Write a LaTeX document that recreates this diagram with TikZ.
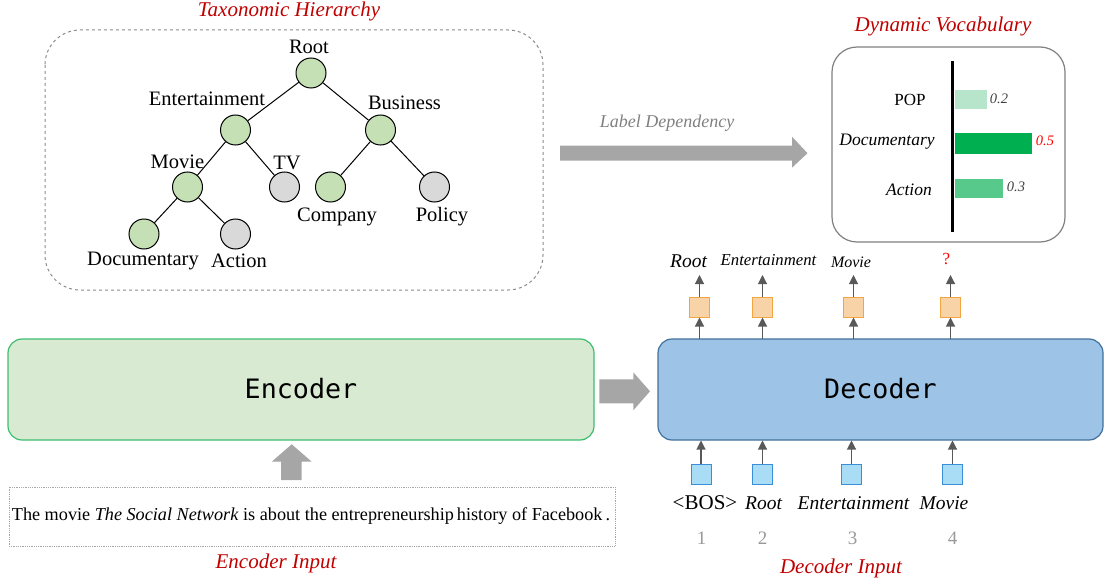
\documentclass[tikz,border=0pt]{standalone}
\usepackage{fontspec}
\setmainfont{Liberation Serif}
\newfontfamily\monofont{DejaVu Sans Mono}
\usetikzlibrary{arrows.meta}
\definecolor{treegreen}{HTML}{C5E0B4}
\definecolor{treegray}{HTML}{D9D9D9}
\definecolor{titlered}{HTML}{C00000}
\definecolor{encfill}{HTML}{D9EAD3}
\definecolor{encdraw}{HTML}{3DBE6E}
\definecolor{decfill}{HTML}{9DC3E6}
\definecolor{decdraw}{HTML}{41719C}
\definecolor{outfill}{HTML}{F8D3A8}
\definecolor{outdraw}{HTML}{F2A541}
\definecolor{infill}{HTML}{A8DDF5}
\definecolor{indraw}{HTML}{3A8ED8}
\definecolor{blockgray}{HTML}{A6A6A6}
\definecolor{arrgray}{HTML}{595959}
\definecolor{barA}{HTML}{B6E5CB}
\definecolor{barB}{HTML}{00B050}
\definecolor{barC}{HTML}{57C98A}
\tikzset{
  tnode/.style={circle, draw=black, line width=1pt, minimum size=30pt, inner sep=0pt},
  tgreen/.style={tnode, fill=treegreen},
  tgray/.style={tnode, fill=treegray},
  tlabel/.style={font=\fontsize{20.5}{22}\selectfont, inner sep=0pt},
  title/.style={font=\fontsize{21}{23}\selectfont\itshape, text=titlered, inner sep=0pt},
  tedge/.style={line width=1pt},
  sq/.style={minimum size=20pt, inner sep=0pt, line width=1pt},
  outsq/.style={sq, fill=outfill, draw=outdraw},
  insq/.style={sq, fill=infill, draw=indraw},
  smallarr/.style={draw=arrgray, line width=1.1pt, -{Triangle[width=9pt,length=9pt]}},
  seqlabel/.style={font=\fontsize{19.5}{21}\selectfont\itshape, inner sep=0pt},
  numlabel/.style={font=\fontsize{19}{21}\selectfont, text=gray!80, inner sep=0pt},
  vocab/.style={font=\fontsize{17.5}{19}\selectfont\itshape, inner sep=0pt},
  val/.style={font=\fontsize{14.5}{16}\selectfont\itshape, inner sep=0pt, text=black!75},
}
\begin{document}
\begin{tikzpicture}[x=1pt,y=-1pt]
\useasboundingbox (0,0) rectangle (1106,583);

% ---------- Taxonomic hierarchy ----------
\node[title] (tth) at (289,11) {Taxonomic Hierarchy};
\draw[dashed, draw=gray!90, line width=1pt, rounded corners=35pt] (45,30) rectangle (543,290);

\node[tgreen] (root) at (311,73) {};
\node[tgreen] (ent) at (235.5,130) {};
\node[tgreen] (bus) at (380.5,130) {};
\node[tgreen] (mov) at (187.5,187) {};
\node[tgray]  (tv)  at (284.5,187) {};
\node[tgreen] (com) at (330.5,187) {};
\node[tgray]  (pol) at (434.5,187) {};
\node[tgreen] (doc) at (144,234) {};
\node[tgray]  (act) at (235.5,234) {};

\draw[tedge] (root) -- (ent);
\draw[tedge] (root) -- (bus);
\draw[tedge] (ent) -- (mov);
\draw[tedge] (ent) -- (tv);
\draw[tedge] (bus) -- (com);
\draw[tedge] (bus) -- (pol);
\draw[tedge] (mov) -- (doc);
\draw[tedge] (mov) -- (act);

\node[tlabel] (lroot) at (309,47) {Root};
\node[tlabel] (lent) at (207,99) {Entertainment};
\node[tlabel] (lbus) at (404.5,103) {Business};
\node[tlabel] (lmov) at (177.5,162) {Movie};
\node[tlabel] (ltv) at (287,163) {TV};
\node[tlabel] (lcom) at (337,217) {Company};
\node[tlabel] (lpol) at (442,217) {Policy};
\node[tlabel] (ldoc) at (143,261) {Documentary};
\node[tlabel] (lact) at (239,261) {Action};

% ---------- Label dependency ----------
\node[font=\fontsize{18}{20}\selectfont\itshape, text=gray, inner sep=0pt] (ldep) at (667,123) {Label Dependency};
\fill[blockgray] (560,145.7) -- (792,145.7) -- (792,136.7) -- (807.5,153.2) -- (792,167.7) -- (792,160.7) -- (560,160.7) -- cycle;

% ---------- Dynamic vocabulary ----------
\node[title] (tdv) at (943,26) {Dynamic Vocabulary};
\draw[draw=gray, line width=1.2pt, rounded corners=25pt] (832,47) rectangle (1065,242);
\fill[barA] (955,90) rectangle (987,109.5);
\fill[barB] (955,133.5) rectangle (1032,154.5);
\fill[barC] (955,179.5) rectangle (1003,198);
\draw[line width=3pt] (952.3,61) -- (952.3,232);
\node[font=\fontsize{17}{19}\selectfont, inner sep=0pt] (vpop) at (910,99.5) {POP};
\node[vocab] (vdoc) at (887,142) {Documentary};
\node[vocab] (vact) at (909,190) {Action};
\node[val] (n2) at (999,98.5) {0.2};
\node[val, text=red] (n5) at (1045,140.5) {0.5};
\node[val] (n3) at (1016,186.5) {0.3};

% ---------- Encoder ----------
\node[draw=encdraw, fill=encfill, line width=1.2pt, rounded corners=14pt, minimum width=586pt, minimum height=101pt, inner sep=0pt] (enc) at (301,389.5) {};
\node[font=\monofont\fontsize{26.7}{29}\selectfont, inner sep=0pt] (enct) at (301,389) {Encoder};

\fill[blockgray] (599.3,379.3) -- (633.3,379.3) -- (633.3,372.3) -- (650,391.3) -- (633.3,410.3) -- (633.3,403.3) -- (599.3,403.3) -- cycle;

\fill[blockgray] (281,480) -- (281,461.7) -- (271.7,461.7) -- (291.7,444.3) -- (311.7,461.7) -- (301.7,461.7) -- (301.7,480) -- cycle;

\node[draw=gray!70, densely dotted, line width=0.8pt, minimum width=606pt, minimum height=59pt, inner sep=0pt] (inbox) at (312,516.5) {};
\node[font=\fontsize{18.2}{20}\selectfont, inner sep=0pt] (intext) at (311,516) {The movie \textit{The Social Network} is about the entrepreneurship\,history of Facebook\,.};
\node[title] (tei) at (276,563) {Encoder Input};

% ---------- Decoder ----------
\node[draw=decdraw, fill=decfill, line width=1.2pt, rounded corners=14pt, minimum width=445pt, minimum height=101pt, inner sep=0pt] (dec) at (880.5,389.5) {};
\node[font=\monofont\fontsize{26.7}{29}\selectfont, inner sep=0pt] (dect) at (880.5,389) {Decoder};

\foreach \i/\x in {1/699.5,2/762.5,3/853.5,4/950.5}{
  \node[outsq] (o\i) at (\x,307) {};
  \coordinate (ob\i) at (\x,339);
  \coordinate (ot\i) at (\x,275);
  \draw[smallarr] (ob\i) -- (o\i);
  \draw[smallarr] (o\i) -- (ot\i);
}
\foreach \i/\x in {1/701,2/762.5,3/851.5,4/952.5}{
  \node[insq] (s\i) at (\x,474.5) {};
  \coordinate (st\i) at (\x,440.5);
  \draw[smallarr] (s\i) -- (st\i);
}

\node[seqlabel] (or) at (688.5,261) {Root};
\node[font=\fontsize{16.7}{18}\selectfont\itshape, inner sep=0pt] (oe) at (768.5,260.5) {Entertainment};
\node[font=\fontsize{16}{18}\selectfont\itshape, inner sep=0pt] (om) at (851,262) {Movie};
\node[font=\fontsize{17}{19}\selectfont, text=red, inner sep=0pt] (oq) at (946.5,258.5) {?};

\node[font=\fontsize{21}{23}\selectfont, inner sep=0pt] (ib) at (705,503) {<BOS>};
\node[seqlabel] (ir) at (763.5,503) {Root};
\node[seqlabel] (ie) at (853.5,503) {Entertainment};
\node[seqlabel] (im) at (944,503) {Movie};

\node[numlabel] (k1) at (701.5,538.5) {1};
\node[numlabel] (k2) at (762.5,538.5) {2};
\node[numlabel] (k3) at (852.5,538.5) {3};
\node[numlabel] (k4) at (952.5,538.5) {4};

\node[title] (tdi) at (841,568) {Decoder Input};
\end{tikzpicture}
\end{document}
